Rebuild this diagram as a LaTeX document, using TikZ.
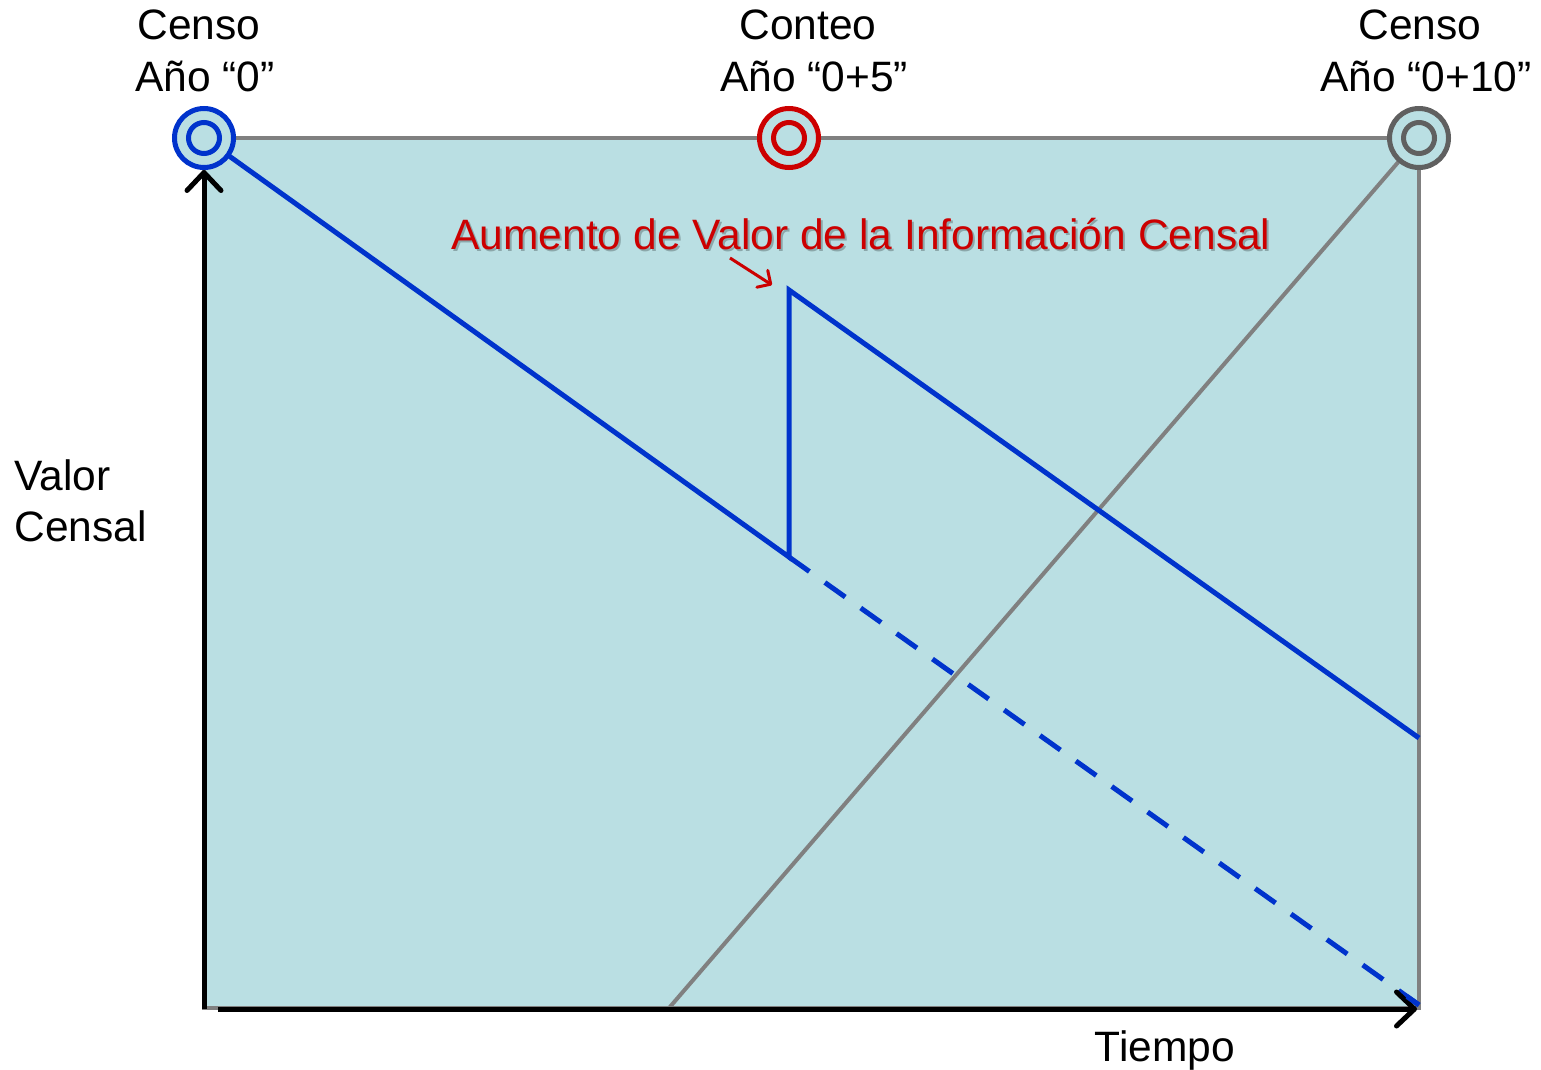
\documentclass[tikz,border=0pt]{standalone}
\usepackage{fontspec}
\setmainfont{Liberation Sans}
\usetikzlibrary{arrows.meta}
\definecolor{bgfill}{RGB}{186,223,227}
\definecolor{cblue}{RGB}{0,51,204}
\definecolor{cred}{RGB}{204,0,0}
\definecolor{cgray}{RGB}{128,128,128}
\definecolor{cdgray}{RGB}{96,96,96}
\begin{document}
\begin{tikzpicture}[x=0.5pt,y=-0.5pt,
 lbl/.style={font=\fontsize{21.25pt}{25.5pt}\selectfont, inner sep=0pt, anchor=base},
 ring/.style={circle, draw=#1, line width=2.5pt, fill=bgfill, minimum size=29.5pt, inner sep=0pt},
 inring/.style={circle, draw=#1, line width=2.5pt, minimum size=15.5pt, inner sep=0pt},
 axis/.style={line width=2.5pt, -{Straight Barb[length=9pt,width=17pt,round]}},
 val/.style={cblue, line width=2.5pt},
]
\useasboundingbox (0,0) rectangle (1541,1070);
% panel
\path[fill=bgfill, draw=cgray, line width=2pt] (204,138) rectangle (1419,1008);
% key points
\coordinate (o) at (204,1009);
\coordinate (xstart) at (218,1009);
\coordinate (xend) at (1417,1009);
\coordinate (ytop) at (204,170);
\coordinate (drop) at (789,557);
\coordinate (jump) at (789,290);
\coordinate (endhi) at (1419,738);
\coordinate (endlo) at (1419,1005);
\coordinate (gstart) at (669,1008);
\coordinate (ra) at (730,258);
\coordinate (rb) at (772,285);
% circle positions (nodes drawn later)
\coordinate (c0p) at (204,138);
\coordinate (c5p) at (789,138);
\coordinate (c10p) at (1419,138);
% gray rising line
\draw[cgray, line width=2pt] (gstart) -- (c10p);
% value lines
\draw[val] (c0p) -- (drop) -- (jump) -- (endhi);
\draw[val, dash pattern=on 12.5pt off 9.5pt] (drop) -- (endlo);
% axes
\draw[axis] (o) -- (ytop);
\draw[axis] (xstart) -- (xend);
\draw[cblue, line width=2.5pt] (endlo) -- ++(-12,-8.5);
% circles
\node[ring=cblue] (c0) at (c0p) {};
\node[inring=cblue] (c0i) at (c0p) {};
\node[ring=cred] (c5) at (c5p) {};
\node[inring=cred] (c5i) at (c5p) {};
\node[ring=cdgray] (c10) at (c10p) {};
\node[inring=cdgray] (c10i) at (c10p) {};
% red annotation
\node[lbl, text=black, opacity=0.25] (shadow) at (863,251) {Aumento de Valor de la Información Censal};
\node[lbl, text=cred] (aum) at (861,249) {Aumento de Valor de la Información Censal};
\draw[cred, line width=1.5pt, -{Straight Barb[length=5pt,width=10pt,round]}] (ra) -- (rb);
% labels
\node[lbl] (t1a) at (199,40) {Censo};
\node[lbl] (t1b) at (205,91) {Año “0”};
\node[lbl] (t2a) at (808,40) {Conteo};
\node[lbl] (t2b) at (814,91) {Año “0+5”};
\node[lbl] (t3a) at (1420,40) {Censo};
\node[lbl] (t3b) at (1426,91) {Año “0+10”};
\node[lbl, anchor=base west] (v1) at (14,490) {Valor};
\node[lbl, anchor=base west] (v2) at (14,541) {Censal};
\node[lbl] (tiempo) at (1165,1061) {Tiempo};
\end{tikzpicture}
\end{document}
